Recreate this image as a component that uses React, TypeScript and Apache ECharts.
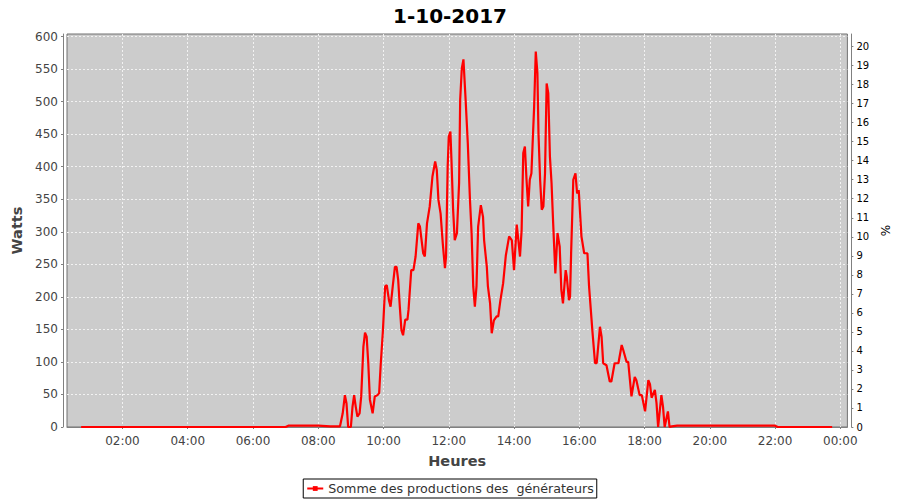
import React, { useEffect, useRef } from "react";
import * as echarts from "echarts";

const TITLE = "1-10-2017";
const SERIES_NAME = "Somme des productions des  générateurs";
const X_NAME = "Heures";
const Y_NAME = "Watts";
const Y2_NAME = "%";
const X_MIN = "00:18";
const X_MAX = "24:13";

const times: string[] = [
  "00:44", "01:30", "02:30", "03:30", "04:30", "05:30", "06:30", "07:00", "07:05", "07:30",
  "08:00", "08:22", "08:40", "08:45", "08:49", "08:52", "08:55", "09:00", "09:03", "09:06",
  "09:09", "09:12", "09:16", "09:19", "09:23", "09:26", "09:29", "09:32", "09:35", "09:40",
  "09:44", "09:49", "09:52", "09:55", "09:59", "10:03", "10:06", "10:10", "10:13", "10:17",
  "10:21", "10:24", "10:27", "10:30", "10:33", "10:36", "10:40", "10:44", "10:46", "10:51",
  "10:55", "10:59", "11:04", "11:07", "11:13", "11:16", "11:20", "11:25", "11:30", "11:35",
  "11:38", "11:41", "11:45", "11:49", "11:53", "11:55", "11:58", "12:00", "12:03", "12:05",
  "12:08", "12:11", "12:15", "12:19", "12:21", "12:24", "12:27", "12:31", "12:35", "12:39",
  "12:42", "12:45", "12:48", "12:51", "12:54", "12:59", "13:03", "13:05", "13:10", "13:12",
  "13:16", "13:19", "13:23", "13:28", "13:31", "13:35", "13:40", "13:45", "13:51", "13:56",
  "14:00", "14:05", "14:08", "14:11", "14:14", "14:17", "14:20", "14:23", "14:26", "14:29",
  "14:32", "14:34", "14:37", "14:40", "14:43", "14:45", "14:48", "14:51", "14:54", "14:57",
  "15:00", "15:03", "15:06", "15:09", "15:12", "15:16", "15:20", "15:24", "15:27", "15:30",
  "15:35", "15:37", "15:41", "15:43", "15:45", "15:49", "15:53", "15:56", "15:59", "16:04",
  "16:09", "16:15", "16:18", "16:24", "16:29", "16:32", "16:38", "16:41", "16:44", "16:50",
  "16:56", "16:59", "17:05", "17:12", "17:18", "17:21", "17:27", "17:30", "17:36", "17:42",
  "17:45", "17:51", "17:55", "18:01", "18:07", "18:10", "18:13", "18:19", "18:22", "18:25",
  "18:31", "18:34", "18:37", "18:43", "18:46", "18:50", "19:00", "19:30", "20:00", "20:30",
  "21:00", "21:30", "22:00", "22:05", "22:30", "23:00", "23:30", "23:45",
];

const watts: number[] = [
  0, 0, 0, 0, 0, 0, 0, 0, 2, 2,
  2, 1, 1, 21, 49, 36, 0, 0, 31, 49,
  31, 16, 21, 47, 123, 145, 139, 98, 42, 21,
  47, 49, 52, 98, 149, 216, 218, 195, 185, 216,
  246, 246, 226, 185, 149, 141, 165, 165, 180, 241,
  241, 262, 313, 308, 267, 262, 313, 339, 385, 408,
  395, 349, 328, 282, 244, 262, 400, 446, 454, 410,
  334, 287, 298, 375, 503, 551, 565, 503, 436, 349,
  298, 216, 185, 216, 308, 341, 323, 287, 246, 216,
  190, 144, 164, 170, 170, 195, 221, 264, 293, 287,
  241, 311, 287, 262, 303, 421, 431, 380, 339, 380,
  390, 431, 492, 577, 544, 451, 380, 334, 339, 390,
  528, 513, 416, 375, 313, 236, 298, 277, 211, 190,
  241, 231, 195, 200, 267, 380, 390, 359, 364, 293,
  267, 267, 216, 149, 98, 98, 154, 139, 98, 95,
  70, 70, 98, 98, 126, 118, 100, 100, 47, 77,
  72, 49, 49, 24, 72, 66, 45, 57, 37, 0,
  49, 31, 0, 24, 0, 1, 2, 2, 2, 2,
  2, 2, 2, 0, 0, 0, 0, 0,
];

const toTime = (hm: string): number => {
  const [h, m] = hm.split(":").map(Number);
  return new Date(2017, 9, 1, h, m).getTime();
};
const pad = (n: number) => (n < 10 ? "0" + n : "" + n);
const fmt = (v: number): string => {
  const d = new Date(v);
  return pad(d.getHours()) + ":" + pad(d.getMinutes());
};

export default function App() {
  const ref = useRef<HTMLDivElement>(null);
  useEffect(() => {
    if (!ref.current) return;
    const chart = echarts.init(ref.current, undefined, { renderer: "svg" });
    const font = "DejaVu Sans";
    const grid = "#f2f2f2";
    const axisGray = "#808080";
    chart.setOption({
      animation: false,
      backgroundColor: "#ffffff",
      textStyle: { fontFamily: font },
      title: {
        text: TITLE,
        left: "center",
        top: 1,
        textStyle: { fontSize: 20, fontWeight: "bold", color: "#000", fontFamily: font },
      },
      grid: {
        left: 67,
        top: 34,
        right: 52,
        bottom: 73,
        show: true,
        backgroundColor: "#cccccc",
        borderColor: "#707070",
        borderWidth: 1,
      },
      legend: {
        data: [SERIES_NAME],
        left: "center",
        bottom: 2,
        borderColor: "#000",
        borderWidth: 1,
        borderRadius: 0,
        padding: [3, 3, 3, 3],
        itemWidth: 16,
        itemHeight: 6,
        itemGap: 5,
        textStyle: { fontSize: 12.7, color: "#333", fontFamily: font },
      },
      xAxis: {
        type: "time",
        min: toTime(X_MIN),
        max: toTime(X_MAX),
        minInterval: 2.2 * 3600 * 1000,
        maxInterval: 2.2 * 3600 * 1000,
        offset: 4,
        name: X_NAME,
        nameLocation: "middle",
        nameGap: 22,
        nameTextStyle: { fontSize: 14.5, fontWeight: "bold", color: "#444", fontFamily: font },
        axisLine: { show: true, lineStyle: { color: axisGray } },
        axisTick: { show: true, length: 2, lineStyle: { color: axisGray } },
        axisLabel: {
          formatter: (v: number) => fmt(v),
          fontSize: 12,
          color: "#444",
          margin: 4,
          showMinLabel: false,
          showMaxLabel: false,
          fontFamily: font,
        },
        splitLine: {
          show: true,
          showMinLine: false,
          showMaxLine: false,
          lineStyle: { color: grid, type: [2, 2], width: 1 },
        },
      },
      yAxis: [
        {
          type: "value",
          min: 0,
          max: 604,
          interval: 50,
          offset: 4,
          name: Y_NAME,
          nameLocation: "middle",
          nameGap: 35,
          nameRotate: 90,
          nameTextStyle: { fontSize: 14.5, fontWeight: "bold", color: "#444", fontFamily: font },
          axisLine: { show: true, lineStyle: { color: axisGray } },
          axisTick: { show: true, length: 2, lineStyle: { color: axisGray } },
          axisLabel: { fontSize: 12, color: "#444", margin: 5, showMaxLabel: false, fontFamily: font },
          splitLine: {
            show: true,
            showMinLine: false,
            showMaxLine: false,
            lineStyle: { color: grid, type: [2, 2], width: 1 },
          },
        },
        {
          type: "value",
          position: "right",
          min: 0,
          max: 20.66,
          interval: 1,
          offset: 4,
          name: Y2_NAME,
          nameLocation: "middle",
          nameGap: 24,
          nameRotate: 90,
          nameTextStyle: { fontSize: 12, color: "#000", fontFamily: font },
          axisLine: { show: true, lineStyle: { color: axisGray } },
          axisTick: { show: true, length: 2, lineStyle: { color: axisGray } },
          axisLabel: { fontSize: 10, color: "#000", margin: 5, showMaxLabel: false, fontFamily: font },
          splitLine: { show: false },
        },
      ],
      series: [
        {
          name: SERIES_NAME,
          type: "line",
          yAxisIndex: 0,
          data: times.map((t, i) => [toTime(t), watts[i]]),
          showSymbol: false,
          symbol: "rect",
          symbolSize: 3,
          color: "#ff0000",
          lineStyle: { color: "#ff0000", width: 2.2 },
        },
      ],
    });
    return () => chart.dispose();
  }, []);
  return (
    <div
      ref={ref}
      style={{ position: "fixed", left: 0, top: 0, width: 900, height: 500 }}
    />
  );
}
